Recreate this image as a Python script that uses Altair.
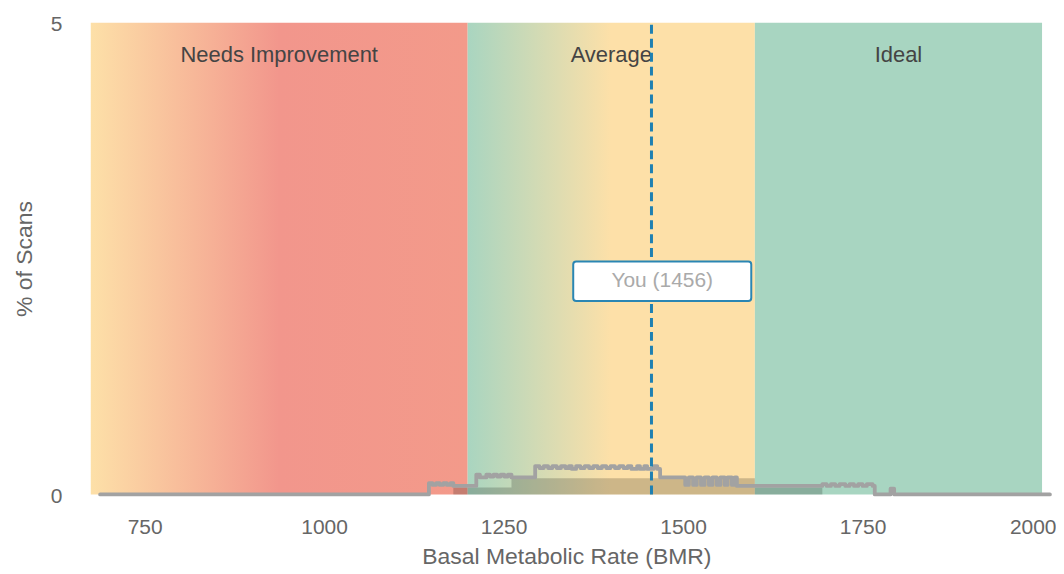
import altair as alt
import pandas as pd

# ---------------- data ----------------
band_names = ["Needs Improvement", "Average", "Ideal"]
band_start = [675, 1200, 1600]
band_end = [1200, 1600, 2000]
band_label_y = 4.66

line_bmr = [688, 1146, 1151, 1156, 1161, 1166, 1171, 1176, 1180,
            1212, 1217, 1226, 1231, 1236, 1241, 1246, 1251, 1256, 1261,
            1294, 1300, 1306, 1312, 1318, 1324, 1330, 1336, 1341, 1345,
            1351, 1357, 1363, 1369, 1375, 1381, 1387, 1393, 1399, 1405,
            1411, 1417, 1423, 1428, 1436, 1440, 1446, 1450, 1459, 1464,
            1468, 1503, 1508, 1514, 1519, 1525, 1530, 1536, 1541, 1547,
            1552, 1558, 1562, 1568, 1572, 1575, 1694, 1700, 1706, 1712,
            1718, 1726, 1732, 1738, 1744, 1750, 1756, 1764, 1767, 1789,
            1794, 2011]
line_pct = [0, 0.12, 0.10, 0.12, 0.10, 0.12, 0.10, 0.12, 0.09,
            0.21, 0.18, 0.21, 0.19, 0.21, 0.19, 0.21, 0.19, 0.21, 0.18,
            0.30, 0.28, 0.30, 0.28, 0.30, 0.28, 0.30, 0.28, 0.30, 0.27,
            0.30, 0.28, 0.30, 0.28, 0.30, 0.28, 0.30, 0.28, 0.30, 0.28,
            0.30, 0.28, 0.30, 0.27, 0.30, 0.27, 0.30, 0.27, 0.30, 0.27,
            0.18, 0.10, 0.18, 0.10, 0.18, 0.10, 0.18, 0.10, 0.18, 0.10,
            0.18, 0.10, 0.18, 0.10, 0.18, 0.09, 0.11, 0.09, 0.11, 0.09,
            0.11, 0.09, 0.11, 0.09, 0.11, 0.09, 0.11, 0.09, 0, 0.06,
            0, 0]

fill_bmr = [1180, 1261, 1600, 1694]
fill_pct = [0.074, 0.17, 0.074, 0]

you_bmr = 1456
you_label = "You (1456)"
box_center_shift = 15
box_half_width = 124
box_y = 2.26
box_half_height = 0.21

x_domain = [675, 2000]
y_domain = [0, 5]
x_ticks = [750, 1000, 1250, 1500, 1750, 2000]
y_ticks = [0, 5]

FONT = "Liberation Sans"

bands = pd.DataFrame({"name": band_names, "start": band_start, "end": band_end})
bands["mid"] = (bands["start"] + bands["end"]) / 2
bands["ly"] = band_label_y
bands["ylo"] = y_domain[0]
bands["yhi"] = y_domain[1]
line_df = pd.DataFrame({"bmr": line_bmr, "pct": line_pct})
fill_df = pd.DataFrame({"bmr": fill_bmr, "pct": fill_pct})
you_df = pd.DataFrame({"bmr": [you_bmr], "label": [you_label]})
you_df["cx"] = you_df["bmr"] + box_center_shift
you_df["x1"] = you_df["cx"] - box_half_width
you_df["x2"] = you_df["cx"] + box_half_width
you_df["yc"] = box_y
you_df["y1"] = box_y - box_half_height
you_df["y2"] = box_y + box_half_height
you_df["ylo"] = y_domain[0]
you_df["yhi"] = y_domain[1]

xscale = alt.Scale(domain=x_domain, nice=False, zero=False)
yscale = alt.Scale(domain=y_domain, nice=False, zero=True)
xaxis = alt.Axis(values=x_ticks, format="d", title="Basal Metabolic Rate (BMR)",
                 grid=False, domain=False, ticks=False, tickSize=0,
                 labelPadding=22, titlePadding=8, labelFlush=5,
                 labelFlushOffset=14)
yaxis = alt.Axis(values=y_ticks, title="% of Scans", grid=False, domain=False,
                 ticks=False, tickSize=0, labelPadding=29, titlePadding=14,
                 labelOffset=2)


def X(field):
    return alt.X(field, type="quantitative", scale=xscale, axis=xaxis)


def Y(field):
    return alt.Y(field, type="quantitative", scale=yscale, axis=yaxis)


def grad(stops):
    return alt.LinearGradient(
        gradient="linear",
        stops=[alt.GradientStop(color=c, offset=o) for o, c in stops],
        x1=0, x2=1, y1=0, y2=0)


band_fills = [
    grad([(0, "#fde0a8"), (0.5, "#f2968c"), (1, "#f39a8a")]),
    grad([(0, "#a9d5c0"), (0.5, "#fde0a8"), (1, "#fde0a8")]),
    grad([(0, "#a8d5c1"), (1, "#a8d5c1")]),
]

layers = []
for i, g in enumerate(band_fills):
    layers.append(
        alt.Chart(bands.iloc[[i]]).mark_rect(fill=g).encode(
            x=X("start"), x2="end", y=Y("ylo"), y2="yhi")
    )

labels = alt.Chart(bands).mark_text(
    font=FONT, fontSize=22, color="#444444", baseline="middle", align="center"
).encode(x=X("mid"), y=Y("ly"), text="name:N")

fill = alt.Chart(fill_df).mark_area(
    interpolate="step-after", color="#000000", opacity=0.19
).encode(x=X("bmr"), y=Y("pct"))

line = alt.Chart(line_df).mark_line(
    interpolate="step-after", color="#a2a2a2", strokeWidth=3.8,
    strokeJoin="round", strokeCap="round"
).encode(x=X("bmr"), y=Y("pct"))

you_rule = alt.Chart(you_df).mark_rule(
    color="#1f80b2", strokeWidth=3, strokeDash=[9, 5]
).encode(x=X("bmr"), y=Y("ylo"), y2="yhi")

box = alt.Chart(you_df).mark_rect(
    fill="white", stroke="#2a86b3", strokeWidth=2, cornerRadius=3
).encode(x=X("x1"), x2="x2", y=Y("y1"), y2="y2")

box_text = alt.Chart(you_df).mark_text(
    font=FONT, fontSize=21, color="#aaaaaa", baseline="middle", align="center"
).encode(x=X("cx"), y=Y("yc"), text="label:N")

chart = alt.layer(*layers, labels, fill, line, you_rule, box, box_text).properties(
    width=954, height=473,
    padding={"left": 5, "top": 5, "right": 0, "bottom": 0}
).configure_view(strokeWidth=0).configure_axis(
    labelFont=FONT, titleFont=FONT, labelFontSize=21, titleFontSize=23,
    labelColor="#666666", titleColor="#666666", titleFontWeight="normal"
)

chart.save("out.html", embed_options={"renderer": "svg", "actions": False})
